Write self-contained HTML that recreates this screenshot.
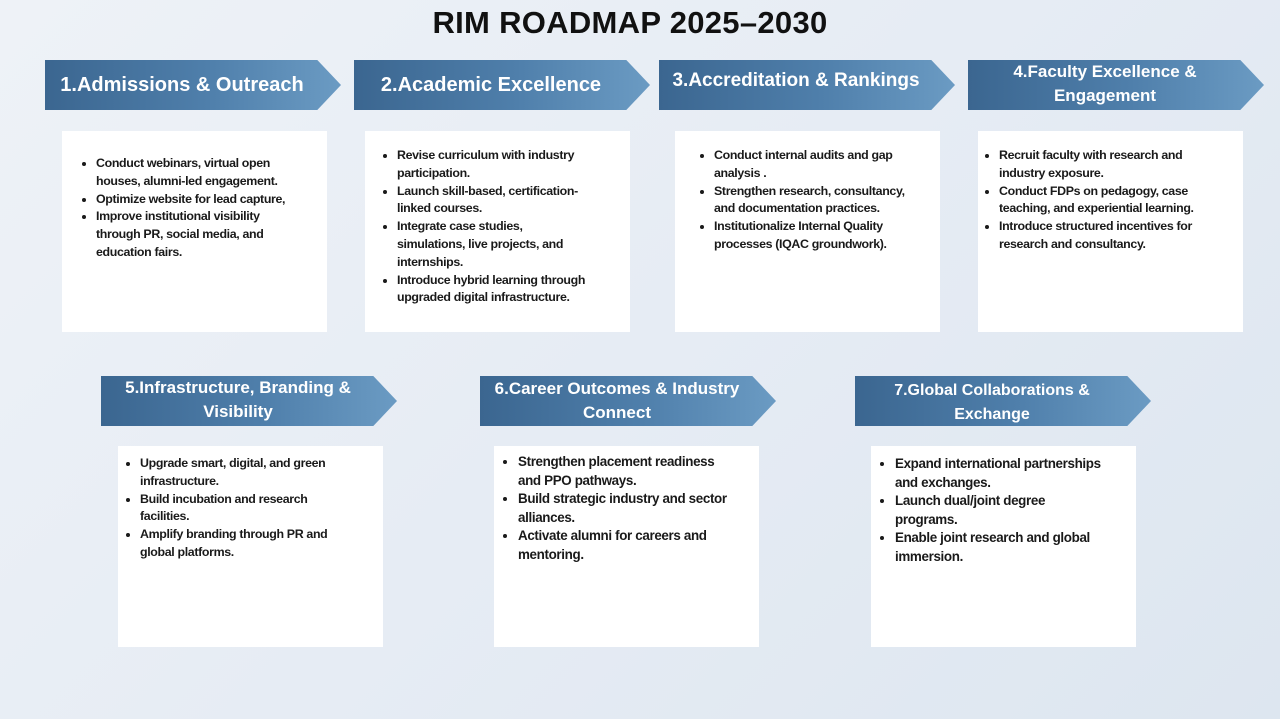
<!DOCTYPE html>
<html><head><meta charset="utf-8"><style>
body{margin:0;width:1280px;height:719px;overflow:hidden;background:linear-gradient(135deg,#eef2f7 0%,#e6ecf4 50%,#dde6f0 100%);font-family:"Liberation Sans",sans-serif;position:relative}
h1{position:absolute;top:5px;left:0;width:1260px;text-align:center;margin:0;font-size:31px;font-weight:bold;color:#111;letter-spacing:0.3px}
.hd{position:absolute;height:50px;width:296px;background:linear-gradient(90deg,#3b6690 0%,#4f7fab 55%,#6b9bc3 100%);clip-path:polygon(0 0,92% 0,100% 50%,92% 100%,0 100%);color:#fff;font-weight:bold;display:flex;align-items:center;justify-content:center;text-align:center;line-height:24px}
.hd span{padding-right:22px}
.bx{position:absolute;width:265px;height:201px;background:#fff;box-sizing:border-box;font-size:12.4px;font-weight:bold;color:#1a1a1a;line-height:17.8px;letter-spacing:-0.35px;white-space:nowrap}
.bx ul{margin:0;padding:0 0 0 34px}
.bx li{padding-left:0;margin:0}
</style></head><body>
<h1>RIM ROADMAP 2025–2030</h1>

<div class="hd" style="left:45px;top:60px;font-size:20px"><span>1.Admissions &amp; Outreach</span></div>
<div class="hd" style="left:354px;top:60px;font-size:20px"><span>2.Academic Excellence</span></div>
<div class="hd" style="left:659px;top:60px;font-size:19px;align-items:flex-start;padding-top:9px;box-sizing:border-box"><span>3.Accreditation &amp; Rankings</span></div>
<div class="hd" style="left:968px;top:60px;font-size:17px;align-items:flex-start;padding-top:0px;box-sizing:border-box"><span>4.Faculty Excellence &amp;<br>Engagement</span></div>
<div class="hd" style="left:101px;top:376px;font-size:17px;align-items:flex-start;box-sizing:border-box"><span>5.Infrastructure, Branding &amp;<br>Visibility</span></div>
<div class="hd" style="left:480px;top:376px;font-size:17px;align-items:flex-start;box-sizing:border-box;padding-top:1px"><span>6.Career Outcomes &amp; Industry<br>Connect</span></div>
<div class="hd" style="left:855px;top:376px;font-size:16px;align-items:flex-start;box-sizing:border-box;padding-top:3px"><span>7.Global Collaborations &amp;<br>Exchange</span></div>

<div class="bx" style="left:62px;top:131px;padding-top:24px"><ul>
<li>Conduct webinars, virtual open<br>houses, alumni-led engagement.</li>
<li>Optimize website for lead capture,</li>
<li>Improve institutional visibility<br>through PR, social media, and<br>education fairs.</li></ul></div>

<div class="bx" style="left:365px;top:131px;padding-top:16px"><ul style="padding-left:32px">
<li>Revise curriculum with industry<br>participation.</li>
<li>Launch skill-based, certification-<br>linked courses.</li>
<li>Integrate case studies,<br>simulations, live projects, and<br>internships.</li>
<li>Introduce hybrid learning through<br>upgraded digital infrastructure.</li></ul></div>

<div class="bx" style="left:675px;top:131px;padding-top:16px"><ul style="padding-left:39px">
<li>Conduct internal audits and gap<br>analysis .</li>
<li>Strengthen research, consultancy,<br>and documentation practices.</li>
<li>Institutionalize Internal Quality<br>processes (IQAC groundwork).</li></ul></div>

<div class="bx" style="left:978px;top:131px;padding-top:16px"><ul style="padding-left:21px">
<li>Recruit faculty with research and<br>industry exposure.</li>
<li>Conduct FDPs on pedagogy, case<br>teaching, and experiential learning.</li>
<li>Introduce structured incentives for<br>research and consultancy.</li></ul></div>

<div class="bx" style="left:118px;top:446px;padding-top:9px"><ul style="padding-left:22px">
<li>Upgrade smart, digital, and green<br>infrastructure.</li>
<li>Build incubation and research<br>facilities.</li>
<li>Amplify branding through PR and<br>global platforms.</li></ul></div>

<div class="bx" style="left:494px;top:446px;padding-top:7px;font-size:13.4px;line-height:18.6px"><ul style="padding-left:24px">
<li>Strengthen placement readiness<br>and PPO pathways.</li>
<li>Build strategic industry and sector<br>alliances.</li>
<li>Activate alumni for careers and<br>mentoring.</li></ul></div>

<div class="bx" style="left:871px;top:446px;padding-top:9px;font-size:13.4px;line-height:18.6px"><ul style="padding-left:24px">
<li>Expand international partnerships<br>and exchanges.</li>
<li>Launch dual/joint degree<br>programs.</li>
<li>Enable joint research and global<br>immersion.</li></ul></div>
</body></html>
